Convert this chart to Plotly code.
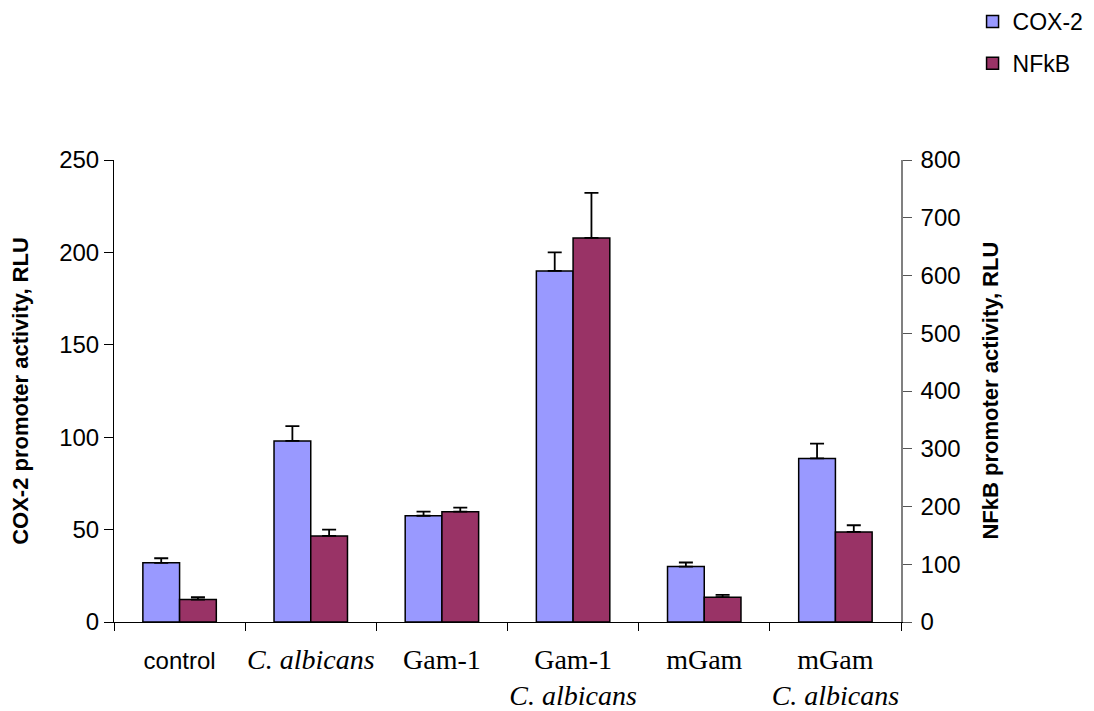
import plotly.graph_objects as go

# Treatment groups and their axis labels
categories = ["control", "C. albicans", "Gam-1", "Gam-1 + C. albicans", "mGam", "mGam + C. albicans"]
tick_labels = [
    "<span style='font-family:Liberation Sans;font-size:24px'>control</span>",
    "<i>C. albicans</i>",
    "Gam-1",
    "Gam-1<br><i>C. albicans</i>",
    "mGam",
    "mGam<br><i>C. albicans</i>",
]

# COX-2 promoter activity (left axis) and its upper error
cox2 = [32, 98, 57.5, 190, 30, 88.5]
cox2_err = [2.5, 8, 2.2, 10, 2.2, 8]

# NFkB promoter activity (right axis) and its upper error
nfkb = [39, 149, 191, 665, 43, 156]
nfkb_err = [4, 11, 7, 78, 4, 11.5]

zeros = [0] * len(categories)
BAR_W = 0.28

fig = go.Figure()
fig.add_trace(go.Bar(
    x=categories, y=cox2, name="COX-2", yaxis="y",
    width=BAR_W, offset=-BAR_W,
    marker=dict(color="#9999FF", line=dict(color="black", width=1.5)),
    error_y=dict(type="data", symmetric=False, array=cox2_err, arrayminus=zeros,
                 color="black", thickness=1.8, width=7),
    legendgroup="a",
))
fig.add_trace(go.Bar(
    x=categories, y=nfkb, name="NFkB", yaxis="y2",
    width=BAR_W, offset=0,
    marker=dict(color="#993366", line=dict(color="black", width=1.5)),
    error_y=dict(type="data", symmetric=False, array=nfkb_err, arrayminus=zeros,
                 color="black", thickness=1.8, width=7),
    legendgroup="b",
))

fig.update_layout(
    width=1094, height=711,
    margin=dict(l=114, r=193, t=160, b=89, autoexpand=False),
    paper_bgcolor="white", plot_bgcolor="white",
    font=dict(family="Liberation Sans, Arial", color="black", size=22),
    showlegend=True,
    legend=dict(
        xref="container", yref="container",
        x=0.889, y=1.009, xanchor="left", yanchor="top",
        font=dict(size=23, family="Liberation Sans, Arial"),
        traceorder="grouped", tracegroupgap=9,
        bgcolor="rgba(0,0,0,0)", itemwidth=30,
    ),
    xaxis=dict(
        type="category", categoryorder="array", categoryarray=categories,
        tickmode="array", tickvals=categories, ticktext=tick_labels,
        tickson="boundaries", ticks="outside", ticklen=8, tickcolor="black",
        tickangle=0,
        showline=True, linecolor="black", linewidth=1,
        tickfont=dict(size=28, family="Liberation Serif, Times New Roman"),
        ticklabelstandoff=12,
        showgrid=False, zeroline=False, automargin=False,
        range=[-0.5, 5.5],
    ),
    yaxis=dict(
        range=[0, 250], dtick=50, ticks="outside", ticklen=9, tickcolor="black",
        showline=True, linecolor="black", linewidth=1,
        showgrid=False, zeroline=False, automargin=True,
        tickfont=dict(size=24),
        title=dict(text="<b>COX-2 promoter activity, RLU</b>", font=dict(size=22), standoff=24),
    ),
    yaxis2=dict(
        range=[0, 800], dtick=100, overlaying="y", side="right",
        ticks="outside", ticklen=9, tickcolor="#555555",
        showline=True, linecolor="#808080", linewidth=1.5,
        showgrid=False, zeroline=False, automargin=False,
        tickfont=dict(size=24), ticklabelstandoff=4,
    ),
    yaxis3=dict(
        range=[0, 800], dtick=100, overlaying="y", side="right",
        ticks="inside", ticklen=8, tickcolor="#555555",
        showline=False, showticklabels=False,
        showgrid=False, zeroline=False, automargin=False,
    ),
    annotations=[dict(
        text="<b>NFkB promoter activity, RLU</b>",
        xref="paper", yref="paper", x=1.1125, y=0.5,
        xanchor="center", yanchor="middle", textangle=-90,
        showarrow=False, font=dict(size=22, family="Liberation Sans, Arial", color="black"),
    )],
)

fig.write_html("out.html")
